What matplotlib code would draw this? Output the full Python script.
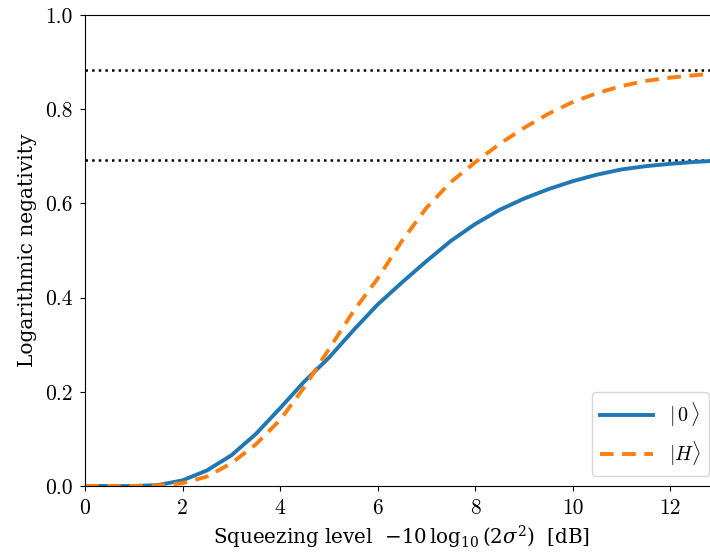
import numpy as np
import matplotlib
matplotlib.use('Agg')
import matplotlib.pyplot as plt
from matplotlib.ticker import FormatStrFormatter
from matplotlib.font_manager import FontProperties

plt.rcParams.update({'font.family': 'DejaVu Serif',
                     'mathtext.fontset': 'dejavuserif',
                     'font.size': 12})

# squeezing level in dB
squeezing = [0, 1, 1.5, 2, 2.5, 3, 3.5, 4, 4.5, 5, 5.5, 6, 6.5, 7, 7.5, 8,
             8.5, 9, 9.5, 10, 10.5, 11, 11.5, 12, 12.5, 13]
# logarithmic negativity for |0> and |H>
ln_vac = [0, 0, 0.002, 0.012, 0.033, 0.065, 0.11, 0.165, 0.222, 0.272, 0.33,
          0.385, 0.432, 0.477, 0.52, 0.556, 0.586, 0.61, 0.63, 0.647, 0.661,
          0.672, 0.679, 0.684, 0.688, 0.691]
ln_h = [0, 0, 0.001, 0.006, 0.02, 0.048, 0.088, 0.14, 0.21, 0.29, 0.37,
        0.44, 0.52, 0.59, 0.645, 0.687, 0.726, 0.76, 0.79, 0.815, 0.834,
        0.849, 0.86, 0.867, 0.872, 0.877]
# asymptotic values
limits = [0.884, np.log(2)]

fig = plt.figure(figsize=(7.1, 5.57), dpi=100)
# the original was cropped on the right, so the axes run past the figure edge
ax = fig.add_axes([85/710, 1-486/557, (718.75-85)/710, (486-15)/557])

for y in limits:
    ax.axhline(y, color='black', ls=':', lw=1.8)
ax.plot(squeezing, ln_vac, color='#1f77b4', lw=2.8, label=r'$|\,0\,\rangle$')
ax.plot(squeezing, ln_h, color='#ff7f0e', lw=2.8, ls='--', dashes=(3.5, 2.2),
        label=r'$|H\rangle$')

ax.set_xlim(0, 13)
ax.set_ylim(0, 1.0)
ax.set_xticks(np.arange(0, 13, 2))
ax.set_yticks(np.arange(0, 1.01, 0.2))
ax.xaxis.set_major_formatter(FormatStrFormatter('%d'))
ax.yaxis.set_major_formatter(FormatStrFormatter('%.1f'))
ax.tick_params(labelsize=15.5, labelfontfamily='cmr10', pad=5.5)

ax.set_xlabel(r'Squeezing level  $-10\,\log_{10}(2\sigma^2)$  [dB]', fontsize=14.3)
ax.set_ylabel('Logarithmic negativity', fontsize=14.5, labelpad=6)
ax.legend(loc='lower right', handlelength=2.6,
          prop=FontProperties(size=14.5, math_fontfamily='cm'))

fig.savefig('out.png', dpi=100)
